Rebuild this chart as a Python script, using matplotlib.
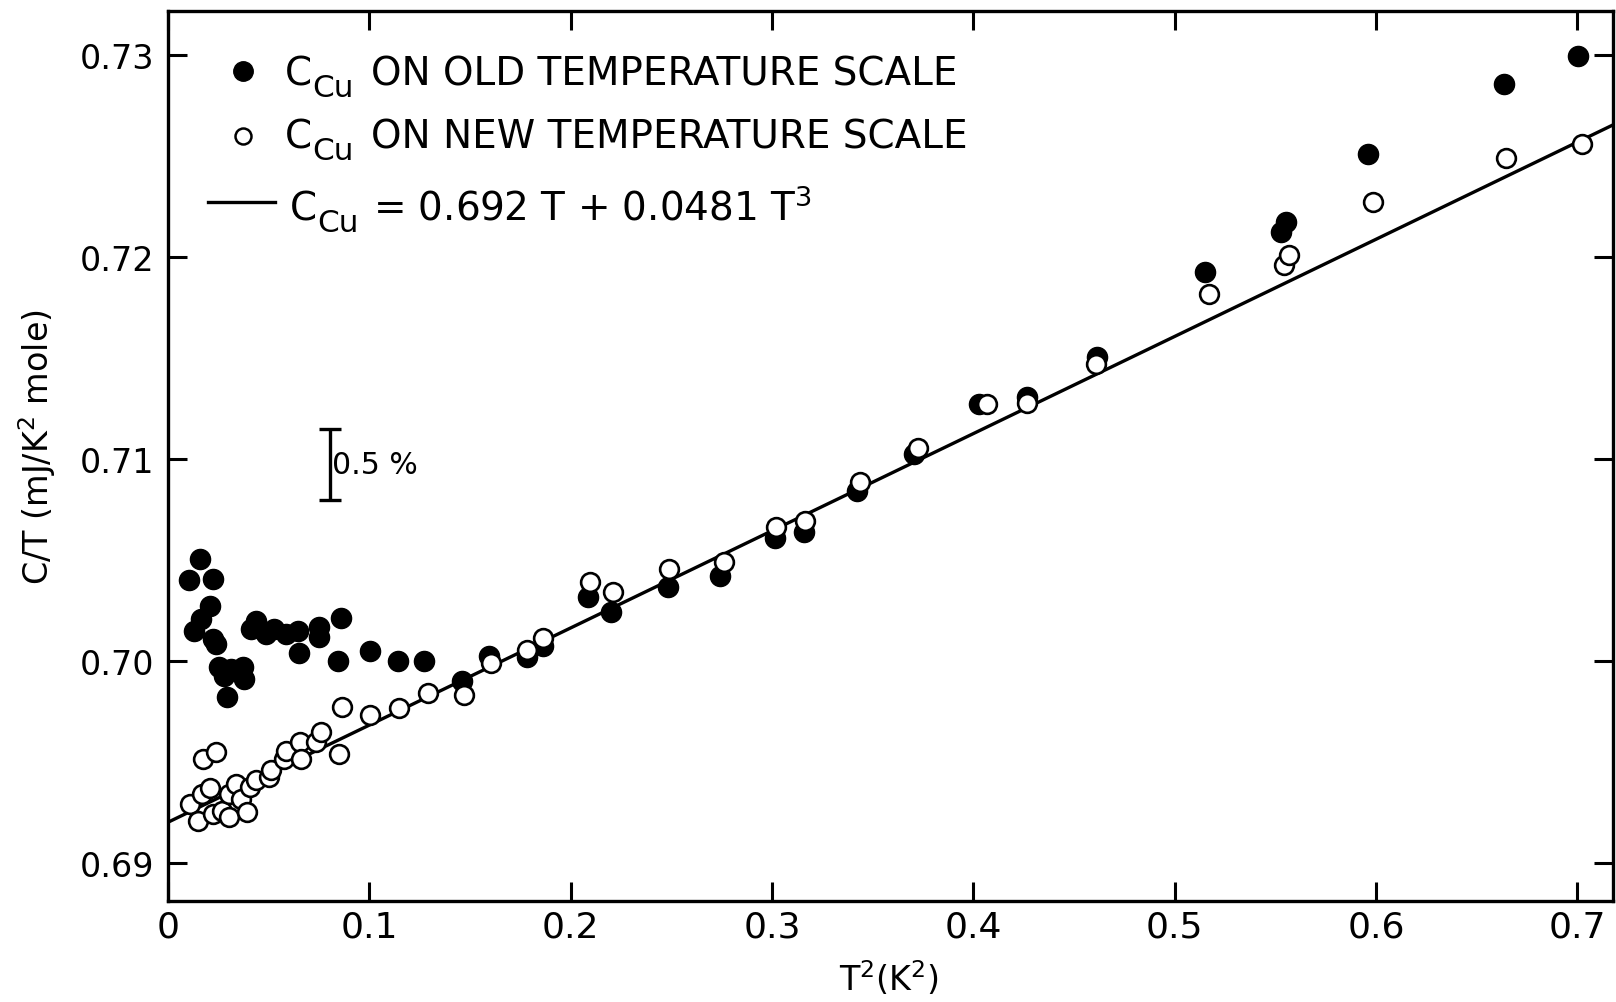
import matplotlib
matplotlib.use("Agg")
import matplotlib.pyplot as plt

plt.rcParams['font.family'] = ['DejaVu Sans']
plt.rcParams['mathtext.fontset'] = 'dejavusans'

# C/T of copper, old temperature scale (filled)
old_t2 = [0.0106, 0.0160, 0.0225, 0.0210, 0.0164, 0.0131, 0.0222, 0.0238,
          0.0255, 0.0279, 0.0313, 0.0371, 0.0379, 0.0291, 0.0412, 0.0437,
          0.0486, 0.0528, 0.0586, 0.0644, 0.0652, 0.0751, 0.0751, 0.0842,
          0.0859, 0.1002, 0.1143, 0.1272, 0.1462, 0.1595, 0.1785, 0.1860,
          0.2086, 0.2199, 0.2483, 0.2744, 0.3017, 0.3158, 0.3423, 0.3704,
          0.4026, 0.4266, 0.4614, 0.5151, 0.5529, 0.5553, 0.5959, 0.6637,
          0.7001]
old_ct = [0.70401, 0.70503, 0.70404, 0.70272, 0.70206, 0.70148, 0.70107, 0.70083,
          0.69970, 0.69925, 0.69959, 0.69967, 0.69909, 0.69820, 0.70157, 0.70198,
          0.70132, 0.70157, 0.70132, 0.70148, 0.70038, 0.70165, 0.70115, 0.69999,
          0.70210, 0.70046, 0.70000, 0.70000, 0.69901, 0.70025, 0.70017, 0.70074,
          0.70314, 0.70239, 0.70363, 0.70418, 0.70606, 0.70638, 0.70841, 0.71023,
          0.71271, 0.71304, 0.71502, 0.71926, 0.72120, 0.72170, 0.72507, 0.72855,
          0.72995]

# C/T of copper, new temperature scale (open)
new_t2 = [0.0111, 0.0150, 0.0167, 0.0172, 0.0210, 0.0222, 0.0238, 0.0268,
          0.0304, 0.0304, 0.0337, 0.0362, 0.0392, 0.0408, 0.0437, 0.0503,
          0.0511, 0.0577, 0.0586, 0.0657, 0.0660, 0.0734, 0.0759, 0.0850,
          0.0864, 0.1004, 0.1148, 0.1289, 0.1471, 0.1603, 0.1785, 0.1860,
          0.2094, 0.2212, 0.2488, 0.2761, 0.3021, 0.3166, 0.3439, 0.3726,
          0.4068, 0.4266, 0.4610, 0.5168, 0.5543, 0.5570, 0.5987, 0.6644,
          0.7024]
new_ct = [0.69290, 0.69208, 0.69340, 0.69513, 0.69368, 0.69241, 0.69549, 0.69257,
          0.69225, 0.69340, 0.69389, 0.69315, 0.69252, 0.69373, 0.69411, 0.69422,
          0.69460, 0.69513, 0.69554, 0.69599, 0.69513, 0.69596, 0.69645, 0.69538,
          0.69772, 0.69731, 0.69766, 0.69838, 0.69831, 0.69990, 0.70054, 0.70112,
          0.70388, 0.70341, 0.70454, 0.70490, 0.70660, 0.70693, 0.70886, 0.71053,
          0.71271, 0.71276, 0.71469, 0.71815, 0.71959, 0.72008, 0.72272, 0.72487,
          0.72558]

# fit C = gamma T + beta T^3  ->  C/T = gamma + beta T^2
gamma = 0.692
beta = 0.0481

xticks = [0, 0.1, 0.2, 0.3, 0.4, 0.5, 0.6, 0.7]
xticklabels = ['0', '0.1', '0.2', '0.3', '0.4', '0.5', '0.6', '0.7']
yticks = [0.69, 0.70, 0.71, 0.72, 0.73]
yticklabels = ['0.69', '0.70', '0.71', '0.72', '0.73']

XMAX = 0.7176
YMIN, YMAX = 0.68811, 0.73214

fig = plt.figure(figsize=(16.16, 10.03), dpi=100)
ax = fig.add_axes([0.104, 0.1009, 0.894, 0.8867])

fit_x = [0, XMAX]
fit_y = [gamma + beta * t for t in fit_x]
ax.plot(fit_x, fit_y, color='black', lw=2.4, zorder=2)

ax.plot(old_t2, old_ct, 'o', ms=14.5, mfc='black', mec='black', zorder=3)
ax.plot(new_t2, new_ct, 'o', ms=13.5, mfc='white', mec='black', mew=1.9, zorder=4)

# 0.5 % scale bar (0.5 % of 0.70)
ax.errorbar([0.0804], [0.7097], yerr=[0.00175], fmt='none', ecolor='black',
            elinewidth=2.4, capsize=8, capthick=2.4)
ax.text(0.0815, 0.7097, '0.5 %', fontsize=21.5, va='center', ha='left')

ax.set_xlim(0, XMAX)
ax.set_ylim(YMIN, YMAX)
ax.set_xticks(xticks)
ax.set_xticklabels(xticklabels, fontsize=26)
ax.set_yticks(yticks)
ax.set_yticklabels(yticklabels, fontsize=24)
ax.tick_params(direction='in', length=14, width=2.2, top=True, right=True)
ax.tick_params(axis='x', pad=6)
ax.tick_params(axis='y', pad=10)
for s in ax.spines.values():
    s.set_linewidth(2.4)

# hand-drawn legend
ax.plot([0.0521], [0.9333], 'o', ms=14, mfc='black', mec='black',
        transform=ax.transAxes, clip_on=False)
ax.plot([0.0521], [0.8602], 'o', ms=11.5, mfc='white', mec='black', mew=1.8,
        transform=ax.transAxes, clip_on=False)
ax.plot([0.0277, 0.0740], [0.7854, 0.7854], color='black', lw=2.4,
        transform=ax.transAxes)

FS = 28


def c_cu_label(x, y, tail, gap):
    c = ax.text(x, y, 'C', transform=ax.transAxes, fontsize=FS,
                ha='left', va='baseline')
    sub = ax.annotate('Cu', xy=(1, 0), xycoords=c, xytext=(0, -7.3),
                      textcoords='offset points', fontsize=FS * 0.8,
                      ha='left', va='bottom')
    ax.annotate(tail, xy=(1, 0), xycoords=(sub, c), xytext=(gap, 0),
                textcoords='offset points', fontsize=FS,
                ha='left', va='bottom')


c_cu_label(0.081, 0.9184, 'ON OLD TEMPERATURE SCALE', 12.5)
c_cu_label(0.081, 0.8472, 'ON NEW TEMPERATURE SCALE', 12.5)
c_cu_label(0.0844, 0.7666, r'= 0.692 T + 0.0481 T$^{3}$', 10)

fig.text(0.0229, 0.5543, r'C/T (mJ/K$^{2}$ mole)', rotation=90, ha='center',
         va='center', fontsize=24)
fig.text(0.5498, 0.024, r'T$^{2}$(K$^{2}$)', ha='center', va='center',
         fontsize=24)

fig.savefig('out.png', dpi=100)
